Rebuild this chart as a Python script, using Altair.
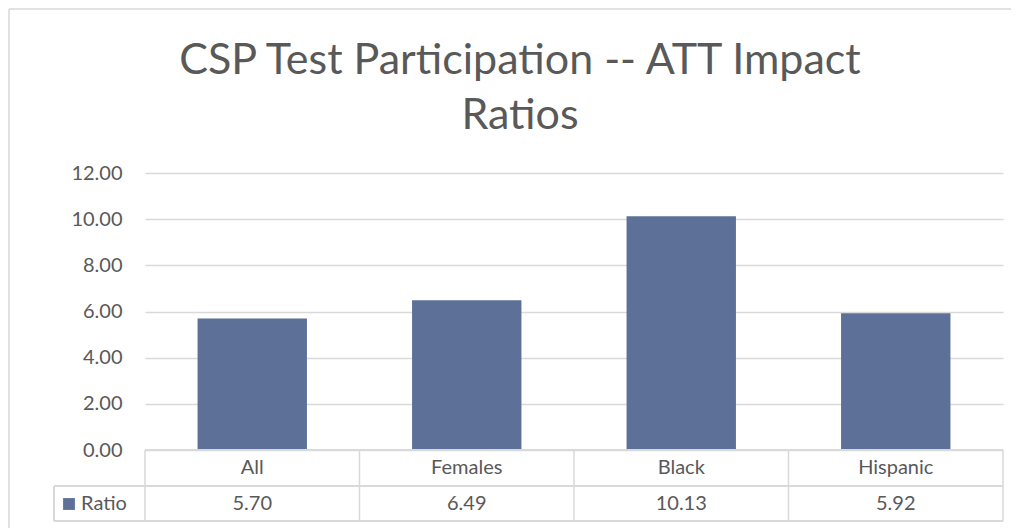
import altair as alt
import pandas as pd

categories = ["All", "Females", "Black", "Hispanic"]
ratios = [5.70, 6.49, 10.13, 5.92]
series_name = "Ratio"
y_ticks = [0, 2, 4, 6, 8, 10, 12]
title_lines = ["CSP Test Participation -- ATT Impact", "Ratios"]

df = pd.DataFrame({"category": categories, "ratio": ratios})

FONT = "Lato"
GREY = "#595959"
LINE = "#d9d9d9"
BAR = "#5d7198"
W, H = 858, 277
STEP = W / len(categories)

xenc = alt.X("category:N", sort=categories, axis=None,
             scale=alt.Scale(paddingInner=0.49, paddingOuter=0.245))

base = alt.Chart(df)

bars = base.mark_bar(color=BAR).encode(
    x=xenc,
    y=alt.Y("ratio:Q", title=None,
            scale=alt.Scale(domain=[0, 12], nice=False),
            axis=alt.Axis(values=y_ticks, format=".2f", domain=False, ticks=False,
                          labelPadding=23, labelFontSize=20, labelFont=FONT,
                          labelColor=GREY, gridColor=LINE, gridWidth=1.5)),
)

# data table: category header row and value row
header = base.mark_text(font=FONT, fontSize=20, color=GREY, baseline="middle").encode(
    x=xenc, y=alt.value(295), text="category:N")
values_row = base.mark_text(font=FONT, fontSize=20, color=GREY, baseline="middle").encode(
    x=xenc, y=alt.value(331), text=alt.Text("ratio:Q", format=".2f"))

vlines = base.mark_rule(color=LINE, strokeWidth=1.5, xOffset=-STEP / 2).encode(
    x=xenc, y=alt.value(277), y2=alt.value(348))
vline_last = alt.Chart(df.tail(1)).mark_rule(color=LINE, strokeWidth=1.5, xOffset=STEP / 2).encode(
    x=xenc, y=alt.value(277), y2=alt.value(348))
vline_left = base.mark_rule(color=LINE, strokeWidth=1.5).encode(
    x=alt.value(-91), y=alt.value(313), y2=alt.value(348))
hline_top = base.mark_rule(color=LINE, strokeWidth=1.5).encode(
    x=alt.value(0), x2=alt.value(W), y=alt.value(277))
hline_mid = base.mark_rule(color=LINE, strokeWidth=1.5).encode(
    x=alt.value(-91), x2=alt.value(W), y=alt.value(313))
hline_bot = base.mark_rule(color=LINE, strokeWidth=1.5).encode(
    x=alt.value(-91), x2=alt.value(W), y=alt.value(348))

legend_df = pd.DataFrame({"series": [series_name]})
legend_sq = alt.Chart(legend_df).mark_square(color=BAR, opacity=1, size=140).encode(
    x=alt.value(-76), y=alt.value(331))
legend_txt = alt.Chart(legend_df).mark_text(font=FONT, fontSize=20, color=GREY,
                                            align="left", baseline="middle").encode(
    x=alt.value(-64), y=alt.value(331), text="series:N")

# chart frame (top and left edges; the others run past the picture)
border_top = alt.Chart(legend_df).mark_rule(color=LINE, strokeWidth=1.5).encode(
    x=alt.value(-136), x2=alt.value(W + 20), y=alt.value(-164))
border_left = alt.Chart(legend_df).mark_rule(color=LINE, strokeWidth=1.5).encode(
    x=alt.value(-136), y=alt.value(-164), y2=alt.value(H + 90))

title_df = pd.DataFrame({"line": title_lines, "row": [0, 1]})
title1 = alt.Chart(title_df.head(1)).mark_text(
    font=FONT, fontSize=43, color=GREY, align="center", baseline="alphabetic").encode(
    x=alt.value(375), y=alt.value(-99), text="line:N")
title2 = alt.Chart(title_df.tail(1)).mark_text(
    font=FONT, fontSize=43, color=GREY, align="center", baseline="alphabetic").encode(
    x=alt.value(375), y=alt.value(-44), text="line:N")

chart = alt.layer(
    border_top, border_left, bars, hline_top, hline_mid, hline_bot, vlines, vline_last,
    vline_left, header, values_row, legend_sq, legend_txt, title1, title2,
).properties(
    width=W, height=H,
    padding={"left": 137, "top": 165, "right": 8, "bottom": 78},
    autosize=alt.AutoSizeParams(type="none"),
).configure(background="white").configure_view(stroke=None)

chart.save("out.html", embed_options={"renderer": "svg", "actions": False})
